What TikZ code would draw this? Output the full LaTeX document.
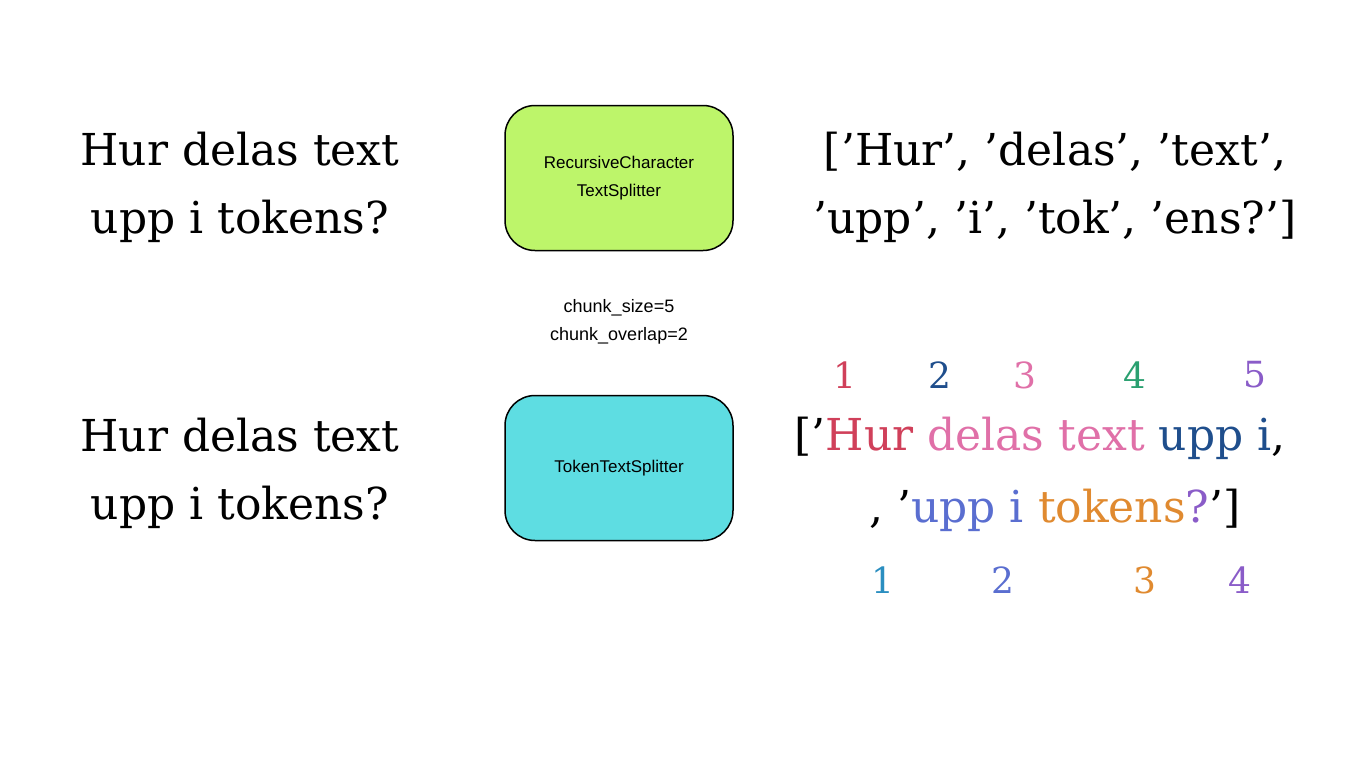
\documentclass[tikz,border=0pt]{standalone}
\usepackage{fontspec}
\setmainfont{DejaVu Serif}
\setsansfont{Liberation Sans}
\definecolor{cred}{HTML}{D0405A}
\definecolor{cpink}{HTML}{E070A8}
\definecolor{cdblue}{HTML}{1F4E8C}
\definecolor{cgreen}{HTML}{2AA070}
\definecolor{cpurple}{HTML}{8A5CC8}
\definecolor{cteal}{HTML}{2A8EC0}
\definecolor{cblue}{HTML}{5A6ED0}
\definecolor{corange}{HTML}{E08A30}
\definecolor{boxgreen}{HTML}{BDF56A}
\definecolor{boxcyan}{HTML}{5EDDE2}
\begin{document}
\begin{tikzpicture}[x=1pt,y=-1pt,
  big/.style={font=\fontsize{44}{68}\selectfont, align=center, inner sep=0},
  num/.style={font=\fontsize{36}{40}\selectfont, inner sep=0},
  box/.style={draw=black, line width=1.5pt, rounded corners=30pt, minimum width=228pt, minimum height=145pt, font=\sffamily\fontsize{17}{28}\selectfont, align=center},
  small/.style={font=\sffamily\fontsize{18}{28}\selectfont, align=center}]
\useasboundingbox (0,0) rectangle (1365,768);
\node[big] (q1) at (240,187) {Hur delas text\\upp i tokens?};
\node[big] (q2) at (240,473) {Hur delas text\\upp i tokens?};
\node[box, fill=boxgreen] (b1) at (619,178) {RecursiveCharacter\\TextSplitter};
\node[box, fill=boxcyan] (b2) at (619,468) {TokenTextSplitter};
\node[small] (params) at (619,322) {chunk\_size=5\\chunk\_overlap=2};
\node[big] (r1) at (1055,187) {['Hur', 'delas', 'text',\\'upp', 'i', 'tok', 'ens?']};
\node[big] (r2a) at (1040,438) {['\textcolor{cred}{Hur} \textcolor{cpink}{delas text} \textcolor{cdblue}{upp i},};
\node[big] (r2b) at (1055,510) {, '\textcolor{cblue}{upp i} \textcolor{corange}{tokens}\textcolor{cpurple}{?}']};
\node[num, text=cred] (t1) at (845,375) {1};
\node[num, text=cdblue] (t2) at (940,375) {2};
\node[num, text=cpink] (t3) at (1025,375) {3};
\node[num, text=cgreen] (t4) at (1135,375) {4};
\node[num, text=cpurple] (t5) at (1255,375) {5};
\node[num, text=cteal] (u1) at (883,580) {1};
\node[num, text=cblue] (u2) at (1003,580) {2};
\node[num, text=corange] (u3) at (1145,580) {3};
\node[num, text=cpurple] (u4) at (1240,580) {4};
\end{tikzpicture}
\end{document}
